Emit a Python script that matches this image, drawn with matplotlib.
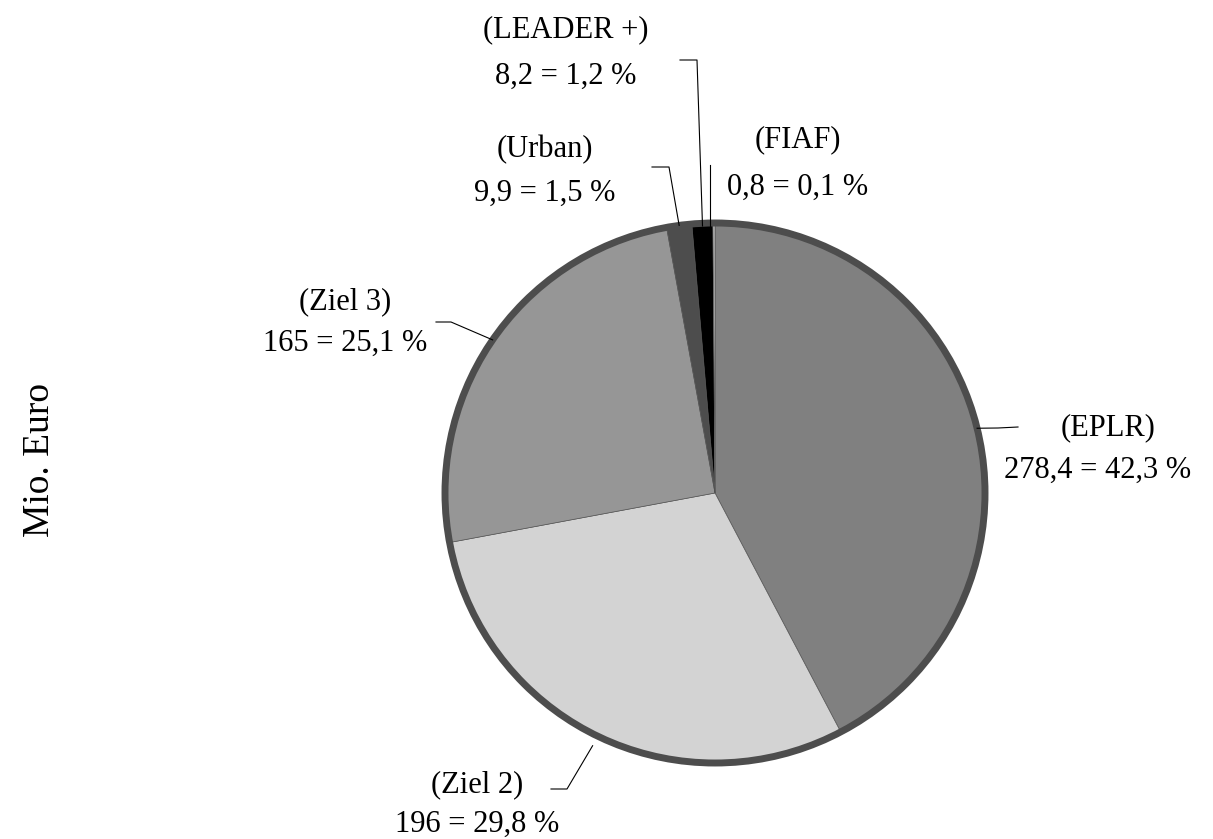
import numpy as np
import matplotlib
matplotlib.use("Agg")
import matplotlib.pyplot as plt
from matplotlib.patches import Circle

plt.rcParams['font.family'] = ['Liberation Serif', 'DejaVu Serif']

# data
names = ['EPLR', 'Ziel 2', 'Ziel 3', 'Urban', 'LEADER +', 'FIAF']
values = [278.4, 196, 165, 9.9, 8.2, 0.8]
value_txt = ['278,4', '196', '165', '9,9', '8,2', '0,8']
colors = ['#808080', '#d3d3d3', '#969696', '#4d4d4d', '#000000', '#c8c8c8']

W, H = 1213, 839
fig = plt.figure(figsize=(W / 100, H / 100), dpi=100)

cx, cy, R = 715, 493, 270
ax = fig.add_axes([(cx - R) / W, (H - cy - R) / H, 2 * R / W, 2 * R / H])

wedges, _ = ax.pie(values, colors=colors, startangle=90, counterclock=False,
                   wedgeprops=dict(edgecolor='#555555', linewidth=0.5))
ax.add_patch(Circle((0, 0), 1.0, fill=False, edgecolor='#4d4d4d', linewidth=5,
                    zorder=5, clip_on=False))
ax.set_xlim(-1, 1)
ax.set_ylim(-1, 1)
ax.axis('off')

total = sum(values)
pcts = [v / total * 100 for v in values]

def px(x, y):
    # pixel position -> data coords of the pie axes
    return (x - cx) / R, (cy - y) / R

# label centres (pixels) and leader elbows (pixels)
label_pos = {
    'EPLR': (1108, 428, 470),
    'Ziel 2': (477, 785, 824),
    'Ziel 3': (345, 302, 343),
    'Urban': (545, 150, 193),
    'LEADER +': (566, 30, 76),
    'FIAF': (798, 140, 187),
}
elbows = {
    'EPLR': [(1018, 427), (998, 428)],
    'Ziel 2': [(551, 789), (567, 789)],
    'Ziel 3': [(436, 322), (451, 322)],
    'Urban': [(652, 167), (669, 167)],
    'LEADER +': [(680, 60), (697, 60)],
    'FIAF': [(710, 165)],
}
r_end = {'EPLR': 1.0, 'Ziel 2': 1.04, 'Ziel 3': 1.0, 'Urban': 1.0,
         'LEADER +': 0.99, 'FIAF': 0.99}

for w, n, vt, p in zip(wedges, names, value_txt, pcts):
    x0, y1, y2 = label_pos[n]
    ax.text(*px(x0, y1), f'({n})', ha='center', va='center', fontsize=22)
    pstr = f'{p:.1f}'.replace('.', ',')
    x2 = x0 - 10 if n == 'EPLR' else x0
    ax.text(*px(x2, y2), f'{vt} = {pstr} %', ha='center', va='center', fontsize=22)
    ang = np.deg2rad((w.theta1 + w.theta2) / 2)
    pts = [px(*e) for e in elbows[n]]
    r = r_end[n]
    if n == 'FIAF':
        pts.append((pts[0][0], r * np.sin(ang)))
    else:
        pts.append((r * np.cos(ang), r * np.sin(ang)))
    xs, ys = zip(*pts)
    ax.plot(xs, ys, color='black', linewidth=0.8, clip_on=False, zorder=6)

fig.text(40 / W, 1 - 460 / H, 'Mio. Euro', rotation=90, ha='center', va='center', fontsize=27)

fig.savefig('out.png', dpi=100)
